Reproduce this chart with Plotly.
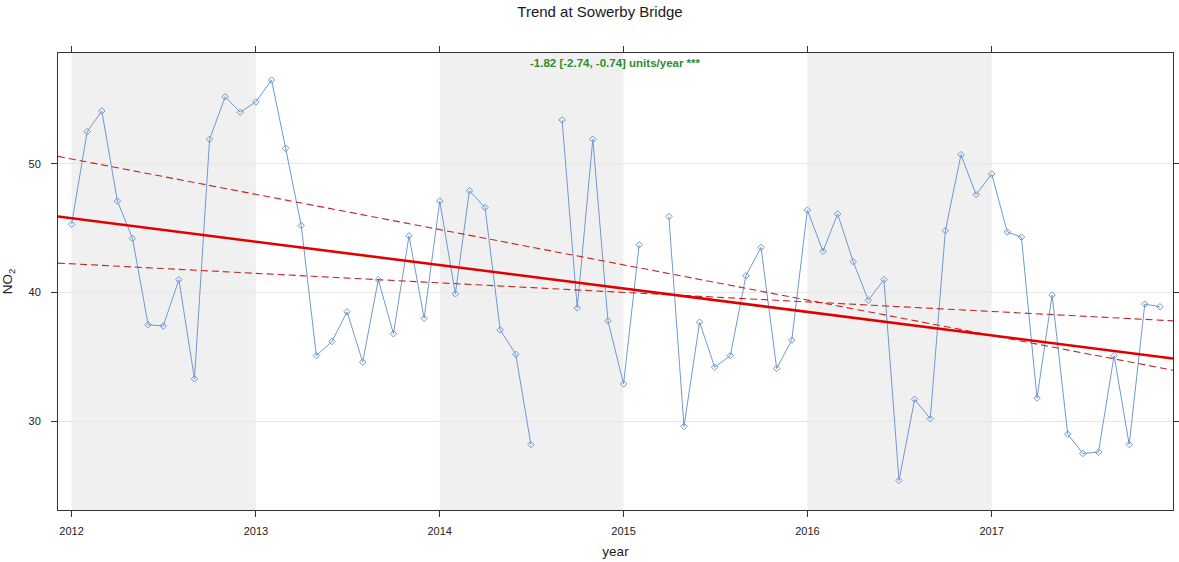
import plotly.graph_objects as go
import pandas as pd

# Monthly mean NO2 at Sowerby Bridge, Jan 2012 - Dec 2017 (None = no data)
months = pd.date_range("2012-01-01", "2017-12-01", freq="MS")
no2 = [
    # 2012
    45.3, 52.5, 54.1, 47.1, 44.2, 37.5, 37.4, 41.0, 33.3, 51.9, 55.2, 54.0,
    # 2013
    54.8, 56.5, 51.2, 45.2, 35.1, 36.2, 38.5, 34.6, 41.0, 36.8, 44.4, 38.0,
    # 2014
    47.1, 39.9, 47.9, 46.6, 37.1, 35.2, 28.2, None, 53.4, 38.8, 51.9, 37.8,
    # 2015
    32.9, 43.7, None, 45.9, 29.6, 37.7, 34.2, 35.1, 41.3, 43.5, 34.1, 36.3,
    # 2016
    46.4, 43.2, 46.1, 42.4, 39.4, 41.0, 25.4, 31.7, 30.2, 44.8, 50.7, 47.6,
    # 2017
    49.2, 44.7, 44.3, 31.8, 39.8, 29.0, 27.5, 27.6, 35.1, 28.2, 39.1, 38.9,
]

# Theil-Sen slope estimate and 95% interval (units/year)
slope = -1.82
slope_lo = -2.74
slope_hi = -0.74
# line values at 1 Jan 2012 for the estimate and interval lines
level_2012 = 45.77
level_2012_lo = 50.37
level_2012_hi = 42.23

shaded_years = [2012, 2014, 2016]
year_ticks = [2012, 2013, 2014, 2015, 2016, 2017]

x_start = pd.Timestamp("2011-12-05")
x_end = pd.Timestamp("2017-12-27")


def decimal_year(ts):
    start = pd.Timestamp(year=ts.year, month=1, day=1)
    end = pd.Timestamp(year=ts.year + 1, month=1, day=1)
    return ts.year + (ts - start) / (end - start)


def trend_line(level, b):
    xs = [x_start, x_end]
    ys = [level + b * (decimal_year(t) - 2012) for t in xs]
    return xs, ys


fig = go.Figure()

fig.add_trace(go.Scatter(
    x=months, y=no2, mode="lines+markers",
    line=dict(color="#7099D4", width=1),
    marker=dict(symbol="diamond-open", size=5, color="#7099D4",
                line=dict(width=1, color="#7099D4")),
    connectgaps=False, showlegend=False,
))

for lvl, b in [(level_2012_lo, slope_lo), (level_2012_hi, slope_hi)]:
    xs, ys = trend_line(lvl, b)
    fig.add_trace(go.Scatter(
        x=xs, y=ys, mode="lines",
        line=dict(color="#C42424", width=1.1, dash="7px,4px"),
        showlegend=False,
    ))

xs, ys = trend_line(level_2012, slope)
fig.add_trace(go.Scatter(
    x=xs, y=ys, mode="lines",
    line=dict(color="#E00000", width=2.6),
    showlegend=False,
))

for yr in shaded_years:
    fig.add_shape(
        type="rect", xref="x", yref="paper",
        x0=f"{yr}-01-01", x1=f"{yr + 1}-01-01", y0=0, y1=1,
        fillcolor="#F0F0F0", line=dict(width=0), layer="below",
    )

fig.add_annotation(
    x=0.5, y=1, xref="paper", yref="paper", yanchor="top", yshift=-2,
    text=f"<b>{slope:.2f} [{slope_lo:.2f}, {slope_hi:.2f}] units/year ***</b>",
    showarrow=False, font=dict(color="#2E8B2E", size=11.5),
)

fig.update_layout(
    width=1179, height=562,
    margin=dict(l=58, r=6, t=53, b=52, autoexpand=False),
    paper_bgcolor="white", plot_bgcolor="white",
    font=dict(family="Liberation Sans, Arial, sans-serif", color="#222222", size=11),
    title=dict(
        text="Trend at Sowerby Bridge",
        x=600 / 1179, xanchor="center", xref="container",
        y=1 - 12 / 562, yanchor="middle", yref="container",
        font=dict(size=15, color="#1a1a1a"),
    ),
    xaxis=dict(
        type="date", range=[x_start, x_end], automargin=False,
        tickvals=[f"{y}-01-01" for y in year_ticks],
        ticktext=[str(y) for y in year_ticks],
        showgrid=False, zeroline=False,
        showline=True, linecolor="#333333", linewidth=1, mirror="ticks",
        ticks="outside", ticklen=6, tickcolor="#333333", tickwidth=1,
        ticklabelstandoff=5,
        tickfont=dict(size=11),
        title=dict(text="year", font=dict(size=13.5), standoff=10),
    ),
    yaxis=dict(
        range=[23.11, 58.6], automargin=False,
        tickvals=[30, 40, 50],
        showgrid=True, gridcolor="#E6E6E6", gridwidth=1, zeroline=False,
        showline=True, linecolor="#333333", linewidth=1, mirror="ticks",
        ticks="outside", ticklen=6, tickcolor="#333333", tickwidth=1,
        ticklabelstandoff=8,
        tickfont=dict(size=11),
        title=dict(text="NO<sub>2</sub>", font=dict(size=13.5), standoff=14),
    ),
)

fig.write_html("out.html")
